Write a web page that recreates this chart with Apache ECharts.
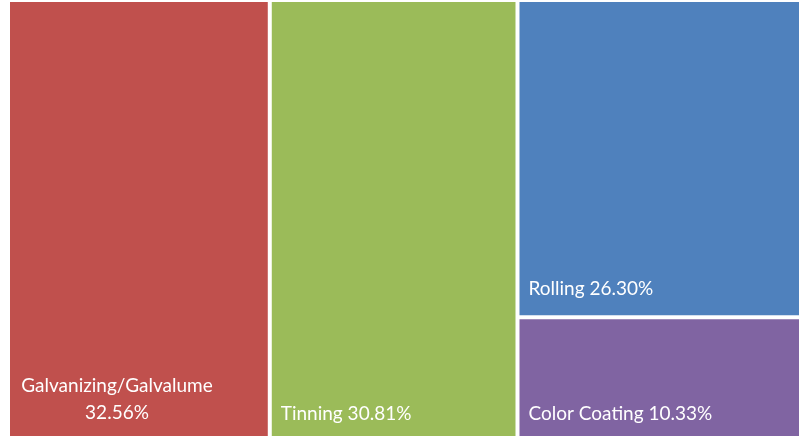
<!DOCTYPE html>
<html>
<head>
<meta charset="utf-8">
<script src="https://cdn.jsdelivr.net/npm/echarts@6/dist/echarts.min.js"></script>
<style>
  html, body { margin: 0; padding: 0; background: #fff; overflow: hidden; }
  #main { width: 799px; height: 436px; }
</style>
</head>
<body>
<div id="main"></div>
<script>
const categories = ['Galvanizing/Galvalume', 'Tinning', 'Rolling', 'Color Coating']
const shares = [32.56, 30.81, 26.30, 10.33]
const colors = ['#C0504D', '#9BBB59', '#4F81BD', '#8064A2']

const myChart = echarts.init(document.getElementById('main'))

const data = categories.map((name, i) => ({
  name: name,
  value: shares[i],
  itemStyle: { color: colors[i] },
}))

const LINE_H = 24
const RICH_LINE_H = 27
const WRAP_W = 196

const option = {
  animation: false,
  series: [
    {
      type: 'treemap',
      // the original picture is cropped on the right and bottom
      left: 10,
      top: 2,
      right: -11,
      bottom: -4,
      roam: false,
      nodeClick: false,
      breadcrumb: { show: false },
      squareRatio: 1,
      levels: [
        {
          itemStyle: { gapWidth: 4, borderWidth: 0, borderColor: '#fff' },
        },
      ],
      itemStyle: { borderWidth: 0 },
      label: {
        show: true,
        position: 'insideTopLeft',
        padding: 0,
        color: '#fff',
        fontFamily: 'Lato',
        fontSize: 19,
        lineHeight: LINE_H,
        formatter: function (p) {
          const pct = p.value.toFixed(2) + '%'
          // the long name wraps onto two centred lines
          if (p.name.length > 15) return '{c|' + p.name + '}\n{c|' + pct + '}'
          return p.name + ' ' + pct
        },
        rich: {
          c: { color: '#fff', fontFamily: 'Lato', fontSize: 19, width: WRAP_W, align: 'center', lineHeight: RICH_LINE_H },
        },
      },
      // labels sit at the bottom-left corner of each tile
      labelLayout: function (params) {
        const lines = params.text.split('\n').length
        const multi = lines > 1
        const h = multi ? lines * RICH_LINE_H : LINE_H
        // centred lines get centred in a box as wide as the tile, pull them back left
        const x = multi
          ? params.rect.x + 9 - (params.rect.width - WRAP_W) / 2
          : params.rect.x + 9
        return {
          x: x,
          y: params.rect.y + params.rect.height - h - 14,
          align: 'left',
          verticalAlign: 'top',
        }
      },
      data: data,
    },
  ],
}

myChart.setOption(option)
</script>
</body>
</html>
